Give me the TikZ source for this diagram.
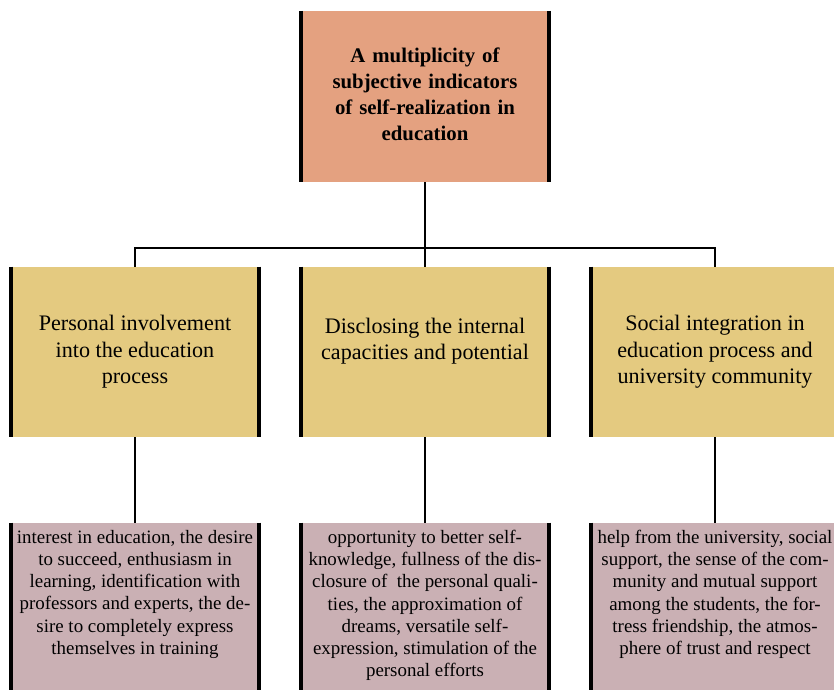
\documentclass[tikz,border=0pt]{standalone}
\usepackage{fontspec}
\setmainfont{Liberation Serif}
\usetikzlibrary{positioning}
\definecolor{headfill}{RGB}{228,161,128}
\definecolor{groupfill}{RGB}{228,202,128}
\definecolor{itemfill}{RGB}{202,176,180}

\begin{document}
\begin{tikzpicture}[x=0.75pt,y=-0.75pt,
	box/.style={fill=#1, inner sep=0pt, minimum width=189pt, minimum height=127.5pt, align=center},
	bar/.style={line width=3pt, black},
	link/.style={line width=0.8pt, black}]

	%Page frame in pixels of the reference
	\useasboundingbox (0,0) rectangle (834,689);
	\clip (0,0) rectangle (834,689);

	%Column centres and row centres
	\pgfmathsetmacro{\ca}{135}
	\pgfmathsetmacro{\cb}{425}
	\pgfmathsetmacro{\cc}{715}
	\pgfmathsetmacro{\ra}{352}
	\pgfmathsetmacro{\rb}{608}

	%Head box
	\node[box=headfill, minimum height=128pt, text width=186pt, font=\bfseries\fontsize{15.6}{19.5}\selectfont] (head) at (\cb,96.5)
		{A multiplicity of\\ subjective indicators\\ of self-realization in\\ education\vspace{3pt}};

	%Group boxes
	\node[box=groupfill, font=\fontsize{16.6}{20}\selectfont] (inv) at (\ca,\ra)
		{Personal involvement\\ into the education\\ process};
	\node[box=groupfill, font=\fontsize{16.6}{20}\selectfont] (dis) at (\cb,\ra)
		{Disclosing the internal\\ capacities and potential\\ \mbox{}};
	\node[box=groupfill, font=\fontsize{16.6}{20}\selectfont] (soc) at (\cc,\ra)
		{Social integration in\\ education process and\\ university community};

	%Item boxes, text from the top
	\node[box=itemfill, font=\fontsize{14.2}{16.6}\selectfont] (invitem) at (\ca,\rb)
		{\parbox[c][127.5pt][t]{186pt}{\centering\vspace*{5.5pt}
		interest in education, the desire\\ to succeed, enthusiasm in\\ learning, identification with\\ professors and experts, the de-\\ sire to completely express\\ themselves in training}};
	\node[box=itemfill, font=\fontsize{14.2}{16.6}\selectfont] (disitem) at (\cb,\rb)
		{\parbox[c][127.5pt][t]{186pt}{\centering\vspace*{5.5pt}
		opportunity to better self-\\ knowledge, fullness of the dis-\\ closure of~ the personal quali-\\ ties, the approximation of\\ dreams, versatile self-\\ expression, stimulation of the\\ personal efforts}};
	\node[box=itemfill, font=\fontsize{14.2}{16.6}\selectfont] (socitem) at (\cc,\rb)
		{\parbox[c][127.5pt][t]{186pt}{\centering\vspace*{5.5pt}
		help from the university, social\\ support, the sense of the com-\\ munity and mutual support\\ among the students, the for-\\ tress friendship, the atmos-\\ phere of trust and respect}};

	%Black side bars
	\foreach \n in {head,inv,dis,soc,invitem,disitem,socitem}{
		\draw[bar] ([xshift=1.5pt]\n.north west) -- ([xshift=1.5pt]\n.south west);
		\draw[bar] ([xshift=-1.5pt]\n.north east) -- ([xshift=-1.5pt]\n.south east);
	}

	%Connectors
	\coordinate (bus) at (\cb,248);
	\draw[link] (head.south) -- (dis.north);
	\draw[link] (inv.north) |- (bus) -| (soc.north);
	\draw[link] (inv.south) -- (invitem.north);
	\draw[link] (dis.south) -- (disitem.north);
	\draw[link] (soc.south) -- (socitem.north);

\end{tikzpicture}
\end{document}
